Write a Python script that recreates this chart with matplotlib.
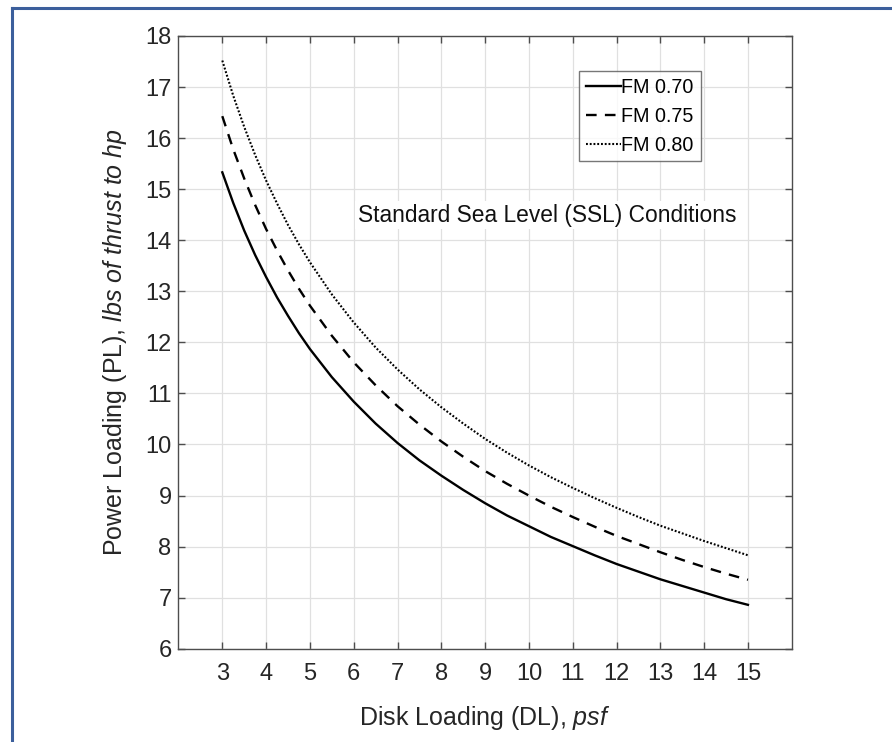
import numpy as np
import matplotlib
matplotlib.use("Agg")
import matplotlib.pyplot as plt
from matplotlib.lines import Line2D

plt.rcParams['font.family'] = ['Liberation Sans', 'DejaVu Sans']
plt.rcParams['mathtext.fontset'] = 'custom'
plt.rcParams['mathtext.rm'] = 'Liberation Sans'
plt.rcParams['mathtext.it'] = 'Liberation Sans:italic'

# disk loading (psf) and power loading (lbs of thrust per hp) for each figure of merit
disk_loading = [3, 3.25, 3.5, 3.75, 4, 4.25, 4.5, 4.75, 5, 5.5, 6, 6.5, 7, 7.5, 8,
                8.5, 9, 9.5, 10, 10.5, 11, 11.5, 12, 12.5, 13, 13.5, 14, 14.5, 15]
pl_fm070 = [15.33, 14.73, 14.19, 13.71, 13.28, 12.88, 12.52, 12.18, 11.87, 11.32,
            10.84, 10.41, 10.03, 9.69, 9.39, 9.11, 8.85, 8.61, 8.40, 8.19,
            8.01, 7.83, 7.66, 7.51, 7.36, 7.23, 7.10, 6.97, 6.86]
pl_fm075 = [16.43, 15.78, 15.21, 14.69, 14.22, 13.80, 13.41, 13.05, 12.72, 12.13,
            11.61, 11.16, 10.75, 10.39, 10.06, 9.76, 9.48, 9.23, 9.00, 8.78,
            8.58, 8.39, 8.21, 8.05, 7.89, 7.74, 7.60, 7.47, 7.35]
pl_fm080 = [17.52, 16.83, 16.22, 15.67, 15.17, 14.72, 14.30, 13.92, 13.57, 12.94,
            12.39, 11.90, 11.47, 11.08, 10.73, 10.41, 10.11, 9.84, 9.59, 9.36,
            9.15, 8.95, 8.76, 8.58, 8.41, 8.26, 8.11, 7.97, 7.83]
labels = ['FM 0.70', 'FM 0.75', 'FM 0.80']

x_ticks = list(range(3, 16))
y_ticks = list(range(6, 19))

fig = plt.figure(figsize=(8.92, 7.42), dpi=100)
ax = fig.add_axes([0.2001, 0.1257, 0.6875, 0.8258])

ax.plot(disk_loading, pl_fm070, color='black', lw=1.7, ls='-', label=labels[0])
ax.plot(disk_loading, pl_fm075, color='black', lw=1.7, ls=(0, (4.5, 3.5)), label=labels[1])
ax.plot(disk_loading, pl_fm080, color='black', lw=1.5, ls=(0, (0.9, 0.9)), label=labels[2])

ax.set_xlim(2, 16)
ax.set_ylim(6, 18)
ax.set_xticks(x_ticks)
ax.set_yticks(y_ticks)
ax.grid(True, color='#e0e0e0', lw=0.9)
ax.set_axisbelow(True)

axis_col = '#4d4d4d'
for sp in ax.spines.values():
    sp.set_color(axis_col)
    sp.set_linewidth(1.0)
ax.tick_params(direction='in', length=5, width=1.0, color=axis_col,
               top=True, right=True, labelsize=17, labelcolor='#262626')
ax.tick_params(axis='x', pad=10)
ax.tick_params(axis='y', pad=5)

ax.set_xlabel(r'Disk Loading (DL), $\mathit{psf}$', fontsize=18, color='#262626', labelpad=14)
ax.set_ylabel(r'Power Loading (PL), $\mathit{lbs\ of\ thrust\ to\ hp}$',
              fontsize=18, color='#262626', labelpad=12)

ax.text(6.1, 14.49, 'Standard Sea Level (SSL) Conditions', fontsize=16.4, color='#111111',
        va='center', ha='left', bbox=dict(facecolor='white', edgecolor='none', pad=2))

leg = ax.legend(loc='upper left', bbox_to_anchor=(0.653, 0.943), fontsize=14.2,
                frameon=True, fancybox=False, handlelength=1.8, handletextpad=0.0,
                borderpad=0.35, labelspacing=0.5, borderaxespad=0)
leg.get_frame().set_edgecolor('#555555')
leg.get_frame().set_linewidth(1.0)

# thin blue frame along the top and left
border = '#3c5f9c'
fig.add_artist(Line2D([11.5 / 892, 1.0], [1 - 8 / 742, 1 - 8 / 742], color=border, lw=2.2,
                      transform=fig.transFigure))
fig.add_artist(Line2D([11.5 / 892, 11.5 / 892], [0.0, 1 - 8 / 742], color=border, lw=2.2,
                      transform=fig.transFigure))

fig.savefig('out.png', dpi=100)
